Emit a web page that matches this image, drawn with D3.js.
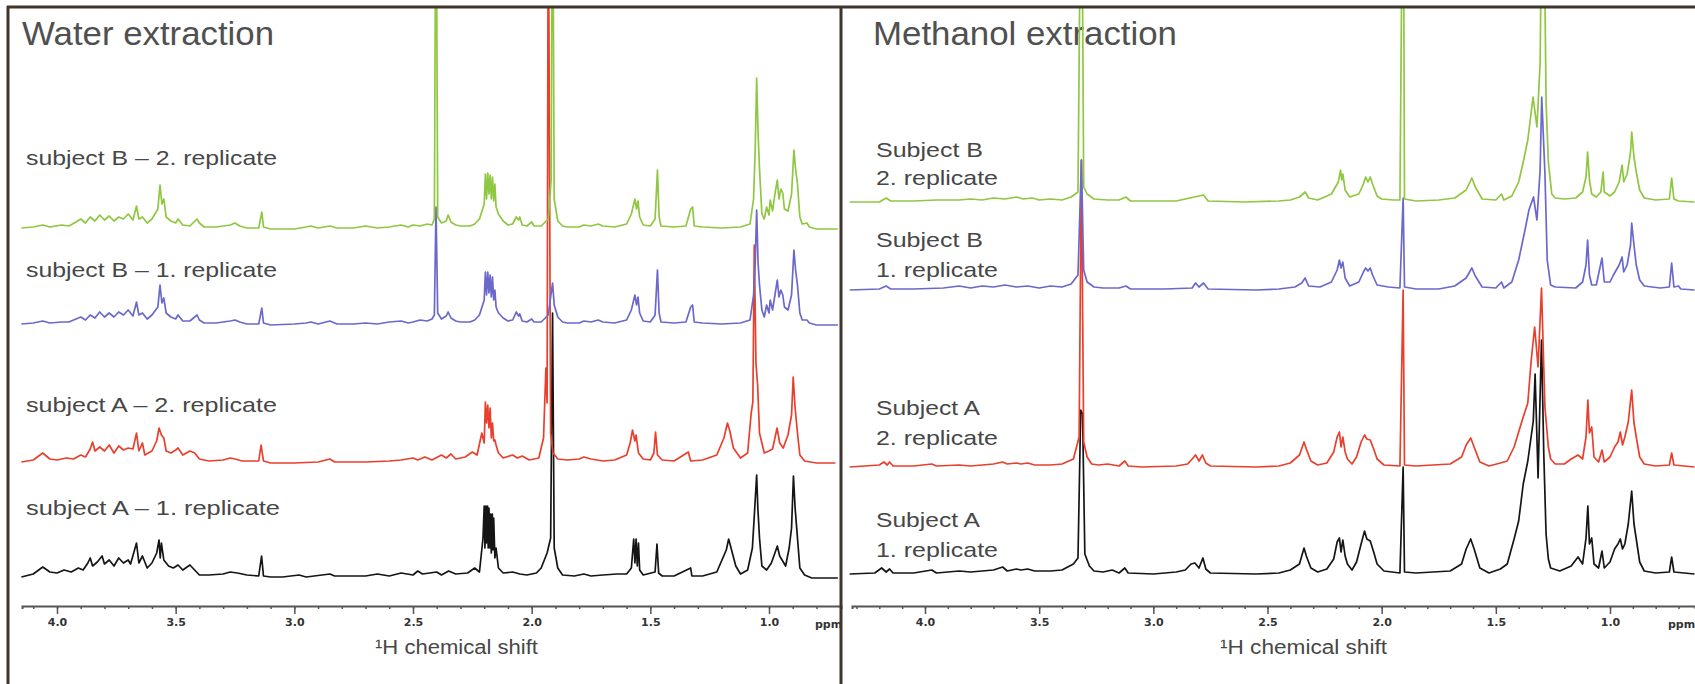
<!DOCTYPE html>
<html><head><meta charset="utf-8">
<script src="https://cdn.jsdelivr.net/npm/d3@7"></script>
<style>body{margin:0;background:#fff;overflow:hidden}</style>
</head><body>
<svg id="chart" width="1695" height="684"></svg>
<script>
// ---------------- DATA ----------------
const panelTitles = ["Water extraction", "Methanol extraction"];
const axisTitle = "\u00B9H chemical shift";
const unitLabel = "ppm";
const majorTicks = [4.0, 3.5, 3.0, 2.5, 2.0, 1.5, 1.0];
const tickLabels = ["4.0", "3.5", "3.0", "2.5", "2.0", "1.5", "1.0"];
const seriesKeys = ["subjectB_rep2", "subjectB_rep1", "subjectA_rep2", "subjectA_rep1"];
const waterLabels = ["subject B \u2013 2. replicate", "subject B \u2013 1. replicate",
                     "subject A \u2013 2. replicate", "subject A \u2013 1. replicate"];
const methanolLabels = [["Subject B", "2. replicate"], ["Subject B", "1. replicate"],
                        ["Subject A", "2. replicate"], ["Subject A", "1. replicate"]];

// spectra: [ppm, intensity (a.u.)]
const waterB2 = [[4.15,1],[4.10,2],[4.06,4],[4.03,2],[3.98,4],[3.95,3],[3.92,7],[3.90,10],[3.88,6],[3.86,12],[3.84,8],[3.82,14],[3.80,9],[3.78,13],[3.76,8],[3.74,12],[3.72,10],[3.70,15],[3.68,9],[3.665,23],[3.655,10],[3.64,12],[3.62,6],[3.60,10],[3.575,20],[3.566,44],[3.558,25],[3.55,30],[3.54,12],[3.52,8],[3.50,6],[3.49,10],[3.47,4],[3.44,3],[3.41,10],[3.40,6],[3.38,2],[3.33,2],[3.30,3],[3.27,4],[3.25,6],[3.23,3],[3.20,1],[3.15,1],[3.137,17],[3.13,2],[3.10,0],[3.00,0],[2.95,2],[2.93,3],[2.90,1],[2.85,3],[2.82,1],[2.75,1],[2.70,3],[2.65,1],[2.60,2],[2.55,4],[2.52,2],[2.50,4],[2.47,3],[2.44,5],[2.42,4],[2.41,10],[2.403,400],[2.396,12],[2.38,6],[2.36,8],[2.352,14],[2.34,7],[2.32,4],[2.30,3],[2.26,3],[2.24,5],[2.22,10],[2.20,25],[2.195,55],[2.19,30],[2.185,56],[2.18,35],[2.175,54],[2.17,30],[2.165,52],[2.16,28],[2.155,45],[2.15,22],[2.14,15],[2.12,8],[2.10,4],[2.08,5],[2.065,12],[2.055,9],[2.05,12],[2.04,4],[2.02,3],[2.00,7],[1.99,3],[1.96,3],[1.93,10],[1.918,49],[1.912,400],[1.905,30],[1.89,8],[1.87,3],[1.85,2],[1.80,2],[1.78,4],[1.75,3],[1.72,5],[1.70,3],[1.65,2],[1.60,5],[1.58,15],[1.565,30],[1.558,20],[1.552,28],[1.545,12],[1.53,4],[1.50,3],[1.48,10],[1.47,59],[1.463,12],[1.455,3],[1.40,2],[1.35,3],[1.33,20],[1.322,22],[1.315,3],[1.28,2],[1.20,1],[1.12,2],[1.08,5],[1.065,30],[1.058,80],[1.052,151],[1.046,96],[1.04,60],[1.03,15],[1.02,10],[1.01,22],[1.00,14],[0.995,29],[0.985,18],[0.975,35],[0.965,49],[0.958,30],[0.95,40],[0.942,36],[0.935,20],[0.92,18],[0.905,35],[0.895,79],[0.888,60],[0.88,45],[0.87,12],[0.86,5],[0.84,6],[0.83,2],[0.80,0],[0.71,0]];

const waterB1 = [[4.15,1],[4.10,2],[4.06,4],[4.03,2],[3.98,3],[3.95,3],[3.92,6],[3.90,8],[3.88,5],[3.86,10],[3.84,7],[3.82,13],[3.80,8],[3.78,12],[3.76,8],[3.74,13],[3.72,10],[3.70,15],[3.68,9],[3.665,23],[3.655,10],[3.64,12],[3.62,6],[3.60,10],[3.575,18],[3.566,40],[3.558,22],[3.55,27],[3.54,12],[3.52,8],[3.50,6],[3.49,10],[3.47,4],[3.44,4],[3.41,10],[3.40,5],[3.38,2],[3.33,2],[3.30,3],[3.27,4],[3.25,5],[3.23,3],[3.20,1],[3.15,1],[3.137,17],[3.13,2],[3.10,0],[3.00,1],[2.95,2],[2.93,3],[2.90,1],[2.85,4],[2.82,1],[2.75,1],[2.70,2],[2.65,1],[2.60,3],[2.55,4],[2.52,2],[2.50,3],[2.47,5],[2.44,4],[2.42,6],[2.41,10],[2.403,118],[2.396,12],[2.38,6],[2.36,9],[2.352,13],[2.34,7],[2.32,4],[2.30,3],[2.26,3],[2.24,5],[2.22,10],[2.20,25],[2.195,53],[2.19,30],[2.185,53],[2.18,32],[2.175,50],[2.17,28],[2.165,48],[2.16,25],[2.155,35],[2.15,18],[2.14,12],[2.12,7],[2.10,4],[2.08,5],[2.065,13],[2.055,9],[2.05,11],[2.04,4],[2.02,3],[2.00,6],[1.99,3],[1.96,3],[1.93,10],[1.912,42],[1.905,20],[1.89,8],[1.87,3],[1.85,2],[1.80,2],[1.78,4],[1.75,3],[1.72,5],[1.70,3],[1.65,2],[1.60,5],[1.58,15],[1.565,30],[1.558,20],[1.552,28],[1.545,12],[1.53,4],[1.50,3],[1.48,10],[1.47,55],[1.463,12],[1.455,3],[1.40,2],[1.35,3],[1.33,18],[1.322,20],[1.315,3],[1.28,2],[1.20,1],[1.12,2],[1.08,5],[1.065,30],[1.058,62],[1.052,115],[1.046,62],[1.04,40],[1.03,15],[1.02,8],[1.01,20],[1.00,12],[0.995,25],[0.985,15],[0.975,30],[0.965,45],[0.958,28],[0.95,35],[0.942,30],[0.935,18],[0.92,15],[0.905,30],[0.895,75],[0.888,55],[0.88,40],[0.87,12],[0.86,5],[0.84,5],[0.83,2],[0.80,0],[0.71,0]];

const waterA2 = [[4.15,1],[4.10,3],[4.06,10],[4.03,4],[4.00,3],[3.96,5],[3.93,4],[3.90,8],[3.88,6],[3.86,14],[3.85,21],[3.84,12],[3.82,16],[3.80,12],[3.78,18],[3.76,10],[3.74,17],[3.72,13],[3.70,15],[3.68,14],[3.665,30],[3.655,12],[3.64,20],[3.63,8],[3.60,12],[3.58,22],[3.57,35],[3.56,28],[3.55,25],[3.54,12],[3.52,10],[3.50,13],[3.49,15],[3.47,8],[3.44,12],[3.42,10],[3.40,4],[3.36,2],[3.30,3],[3.27,5],[3.25,4],[3.22,2],[3.15,2],[3.14,18],[3.13,2],[3.10,0],[3.00,0],[2.90,1],[2.85,4],[2.83,1],[2.70,1],[2.60,2],[2.55,3],[2.50,5],[2.48,3],[2.45,6],[2.42,3],[2.38,8],[2.36,5],[2.34,9],[2.32,4],[2.28,6],[2.25,11],[2.23,8],[2.21,30],[2.20,20],[2.195,61],[2.19,40],[2.185,58],[2.18,35],[2.175,55],[2.17,25],[2.165,40],[2.16,22],[2.155,23],[2.15,18],[2.14,10],[2.12,5],[2.08,8],[2.06,5],[2.04,7],[2.01,3],[1.97,5],[1.95,25],[1.94,95],[1.935,60],[1.93,600],[1.92,30],[1.91,10],[1.89,4],[1.85,3],[1.80,4],[1.78,6],[1.75,4],[1.70,2],[1.65,3],[1.60,8],[1.585,20],[1.575,33],[1.565,22],[1.56,28],[1.55,10],[1.53,4],[1.50,3],[1.485,10],[1.478,31],[1.47,8],[1.45,3],[1.40,2],[1.34,11],[1.33,2],[1.28,3],[1.22,8],[1.19,25],[1.175,40],[1.165,32],[1.15,15],[1.12,5],[1.09,10],[1.075,50],[1.068,61],[1.062,218],[1.055,100],[1.048,78],[1.04,30],[1.02,10],[1.00,12],[0.985,14],[0.975,25],[0.966,35],[0.955,20],[0.94,15],[0.92,28],[0.905,48],[0.898,86],[0.89,55],[0.88,30],[0.87,8],[0.85,2],[0.80,0],[0.72,0]];

const waterA1 = [[4.15,1],[4.10,4],[4.06,11],[4.03,6],[4.00,5],[3.97,8],[3.94,6],[3.91,10],[3.89,8],[3.87,15],[3.86,20],[3.85,12],[3.83,16],[3.81,22],[3.80,14],[3.78,18],[3.76,12],[3.74,20],[3.72,15],[3.70,18],[3.69,14],[3.665,35],[3.655,15],[3.64,22],[3.62,10],[3.60,15],[3.58,25],[3.57,38],[3.565,20],[3.56,35],[3.55,18],[3.53,12],[3.51,10],[3.49,13],[3.47,8],[3.44,13],[3.42,8],[3.40,3],[3.36,3],[3.30,4],[3.27,6],[3.24,5],[3.20,3],[3.15,2],[3.138,22],[3.13,2],[3.10,1],[3.05,1],[2.98,3],[2.95,1],[2.85,4],[2.83,2],[2.70,2],[2.65,4],[2.60,2],[2.55,5],[2.50,3],[2.48,7],[2.46,4],[2.40,6],[2.38,3],[2.35,7],[2.32,4],[2.27,5],[2.24,10],[2.22,6],[2.205,40],[2.20,72],[2.197,30],[2.193,72],[2.19,35],[2.186,72],[2.183,30],[2.18,70],[2.176,30],[2.173,64],[2.17,25],[2.166,64],[2.163,28],[2.16,60],[2.155,20],[2.15,30],[2.14,10],[2.12,5],[2.08,6],[2.05,4],[2.02,3],[1.98,5],[1.96,10],[1.935,25],[1.92,40],[1.912,265],[1.905,30],[1.89,10],[1.87,3],[1.82,2],[1.78,4],[1.75,2],[1.70,3],[1.64,4],[1.60,4],[1.58,10],[1.57,39],[1.565,15],[1.56,39],[1.555,12],[1.55,35],[1.545,8],[1.53,3],[1.48,6],[1.472,34],[1.465,5],[1.45,2],[1.40,2],[1.33,10],[1.325,2],[1.28,2],[1.22,6],[1.18,28],[1.17,39],[1.16,30],[1.14,12],[1.12,4],[1.09,8],[1.07,30],[1.06,70],[1.052,103],[1.047,70],[1.04,40],[1.03,12],[1.01,8],[0.99,15],[0.975,25],[0.965,32],[0.955,22],[0.945,18],[0.93,12],[0.915,30],[0.905,50],[0.897,102],[0.89,70],[0.88,40],[0.87,10],[0.85,3],[0.82,0],[0.71,0]];

const methB2 = [[4.33,0],[4.20,0],[4.17,4],[4.15,1],[4.05,1],[3.95,2],[3.85,2],[3.80,3],[3.75,2],[3.70,4],[3.65,3],[3.60,5],[3.57,3],[3.53,4],[3.50,2],[3.45,3],[3.40,2],[3.36,5],[3.33,10],[3.315,400],[3.305,15],[3.29,8],[3.26,3],[3.20,2],[3.15,2],[3.12,5],[3.10,1],[3.00,1],[2.90,1],[2.78,7],[2.76,1],[2.60,0],[2.45,1],[2.40,2],[2.36,5],[2.335,10],[2.32,4],[2.28,2],[2.22,8],[2.19,20],[2.18,32],[2.175,22],[2.17,28],[2.16,12],[2.14,5],[2.10,8],[2.08,18],[2.07,25],[2.06,20],[2.05,25],[2.04,18],[2.02,6],[2.00,3],[1.95,2],[1.92,2],[1.906,400],[1.90,3],[1.85,1],[1.75,2],[1.68,4],[1.63,12],[1.605,24],[1.59,15],[1.56,3],[1.50,2],[1.475,8],[1.465,2],[1.43,6],[1.40,20],[1.38,40],[1.36,62],[1.345,90],[1.337,105],[1.32,75],[1.306,139],[1.294,400],[1.28,100],[1.27,40],[1.255,8],[1.24,4],[1.20,3],[1.15,4],[1.12,10],[1.105,25],[1.098,50],[1.09,22],[1.08,8],[1.06,5],[1.04,10],[1.03,30],[1.025,10],[1.00,6],[0.98,10],[0.96,20],[0.947,37],[0.94,20],[0.925,28],[0.91,50],[0.905,70],[0.895,45],[0.885,30],[0.87,12],[0.85,4],[0.80,2],[0.74,3],[0.73,24],[0.72,3],[0.70,1],[0.63,0]];

const methB1 = [[4.33,0],[4.20,1],[4.17,4],[4.15,1],[4.05,1],[3.92,2],[3.85,4],[3.80,2],[3.75,4],[3.70,3],[3.65,5],[3.60,3],[3.55,4],[3.50,2],[3.45,4],[3.40,3],[3.36,6],[3.33,15],[3.315,130],[3.305,20],[3.29,8],[3.26,3],[3.22,2],[3.15,2],[3.12,4],[3.10,1],[2.95,1],[2.83,2],[2.815,7],[2.80,3],[2.78,7],[2.76,1],[2.55,0],[2.45,1],[2.38,3],[2.35,7],[2.335,12],[2.32,4],[2.27,3],[2.22,8],[2.195,20],[2.185,30],[2.178,22],[2.17,28],[2.16,12],[2.14,4],[2.10,8],[2.08,18],[2.07,22],[2.06,19],[2.05,22],[2.04,15],[2.02,5],[1.97,3],[1.92,2],[1.906,92],[1.90,3],[1.85,1],[1.75,1],[1.68,4],[1.63,12],[1.605,22],[1.59,14],[1.56,3],[1.50,2],[1.475,8],[1.465,2],[1.43,8],[1.40,30],[1.375,57],[1.355,80],[1.335,93],[1.32,70],[1.306,120],[1.299,193],[1.285,117],[1.275,30],[1.26,5],[1.24,3],[1.15,2],[1.12,8],[1.105,25],[1.098,50],[1.09,15],[1.08,5],[1.06,5],[1.035,32],[1.025,8],[1.00,8],[0.985,15],[0.96,25],[0.947,33],[0.94,18],[0.925,25],[0.91,45],[0.905,67],[0.895,45],[0.885,25],[0.87,10],[0.85,4],[0.78,2],[0.74,3],[0.73,27],[0.72,3],[0.70,4],[0.69,1],[0.63,0]];

const methA2 = [[4.33,0],[4.20,2],[4.18,5],[4.165,2],[4.155,5],[4.14,1],[4.05,1],[3.97,3],[3.95,1],[3.85,2],[3.80,1],[3.70,3],[3.66,5],[3.64,3],[3.60,4],[3.58,3],[3.55,4],[3.52,2],[3.45,2],[3.40,3],[3.35,8],[3.325,30],[3.315,307],[3.305,25],[3.29,10],[3.27,3],[3.24,2],[3.20,3],[3.15,1],[3.125,6],[3.11,1],[3.05,0],[2.90,1],[2.85,3],[2.83,8],[2.815,12],[2.80,6],[2.785,12],[2.77,4],[2.75,1],[2.55,0],[2.45,1],[2.40,4],[2.36,12],[2.34,25],[2.33,18],[2.31,6],[2.28,2],[2.24,4],[2.21,15],[2.195,30],[2.185,35],[2.178,20],[2.17,30],[2.16,15],[2.15,8],[2.13,3],[2.11,10],[2.09,25],[2.075,32],[2.065,28],[2.05,27],[2.035,18],[2.02,8],[1.99,2],[1.92,1],[1.906,177],[1.90,2],[1.85,1],[1.70,3],[1.65,10],[1.63,22],[1.61,29],[1.595,20],[1.57,5],[1.53,1],[1.48,4],[1.45,6],[1.42,20],[1.40,35],[1.38,50],[1.36,64],[1.345,107],[1.33,140],[1.315,100],[1.30,179],[1.285,60],[1.27,20],[1.26,8],[1.24,3],[1.20,3],[1.17,8],[1.14,12],[1.12,8],[1.105,30],[1.097,67],[1.09,34],[1.08,40],[1.07,10],[1.05,5],[1.035,17],[1.025,5],[1.00,10],[0.98,20],[0.965,25],[0.955,35],[0.945,22],[0.935,30],[0.92,45],[0.905,77],[0.895,44],[0.885,30],[0.87,10],[0.85,3],[0.80,1],[0.74,2],[0.73,14],[0.72,2],[0.63,0]];

const methA1 = [[4.33,0],[4.22,1],[4.19,6],[4.17,2],[4.155,5],[4.14,1],[4.05,1],[3.97,4],[3.95,1],[3.90,2],[3.85,3],[3.80,2],[3.75,3],[3.70,4],[3.66,7],[3.64,3],[3.60,5],[3.58,4],[3.55,5],[3.52,3],[3.45,3],[3.40,4],[3.35,10],[3.33,16],[3.318,164],[3.31,160],[3.30,20],[3.28,8],[3.26,3],[3.22,2],[3.18,4],[3.15,1],[3.125,6],[3.11,1],[3.00,0],[2.90,2],[2.86,4],[2.835,10],[2.818,11],[2.80,6],[2.783,16],[2.77,5],[2.75,1],[2.55,0],[2.45,1],[2.40,4],[2.36,10],[2.34,26],[2.33,18],[2.31,6],[2.28,2],[2.24,5],[2.21,15],[2.195,32],[2.185,36],[2.178,22],[2.17,34],[2.16,18],[2.15,10],[2.13,4],[2.11,12],[2.09,30],[2.075,43],[2.065,35],[2.05,33],[2.035,22],[2.02,10],[1.99,3],[1.92,1],[1.906,107],[1.90,2],[1.85,1],[1.70,3],[1.65,10],[1.63,25],[1.61,35],[1.595,25],[1.57,6],[1.53,1],[1.48,5],[1.45,10],[1.42,35],[1.40,53],[1.38,90],[1.36,113],[1.336,153],[1.328,200],[1.315,96],[1.30,234],[1.29,120],[1.28,40],[1.27,15],[1.26,6],[1.22,3],[1.17,8],[1.14,17],[1.12,10],[1.105,36],[1.097,68],[1.09,30],[1.08,36],[1.07,10],[1.05,6],[1.035,23],[1.025,6],[1.00,12],[0.98,25],[0.965,30],[0.955,35],[0.945,25],[0.935,30],[0.92,50],[0.905,83],[0.895,50],[0.885,35],[0.87,12],[0.85,3],[0.80,1],[0.74,2],[0.73,17],[0.72,2],[0.63,0]];

// ---------------- LAYOUT / STYLE ----------------
const colors = ["#8fc741", "#6b68cc", "#e8402d", "#151515"];
const svg = d3.select("#chart");
svg.append("rect").attr("width",1695).attr("height",684).attr("fill","#fff");

const panels = [
  { left: 10, right: 840, ppmRef:[4.0,1.0], pxRef:[57,769], axisFrom: 22, axisTo: 841,
    baselines:[229,325,463,578], series:[waterB2,waterB1,waterA2,waterA1],
    title: panelTitles[0], titleX: 22, titleW: 252,
    labelType: "single", labels: waterLabels, labelX: 26, labelY:[165,277,412,515], labelW:[251,251,251,254],
    unitX: 815, axisTitleX: 375, axisTitleW: 163 },
  { left: 843, right: 1695, ppmRef:[4.0,1.0], pxRef:[925,1610], axisFrom: 852, axisTo: 1695,
    baselines:[202,290,467,574], series:[methB2,methB1,methA2,methA1],
    title: panelTitles[1], titleX: 873, titleW: 304,
    labelType: "double", labels: methanolLabels, labelX: 876, labelY:[[157,185],[247,277],[415,445],[527,557]],
    labelW:[[107,122],[107,122],[104,122],[104,122]],
    unitX: 1668, axisTitleX: 1220, axisTitleW: 167 }
];

const axisY = 606;
const textColor = "#474747";

panels.forEach((p, pi) => {
  const x = d3.scaleLinear().domain(p.ppmRef).range(p.pxRef);
  const g = svg.append("g");
  const clipId = "clip" + pi;
  svg.append("clipPath").attr("id", clipId).append("rect")
     .attr("x", p.left).attr("y", 8).attr("width", p.right - p.left).attr("height", 592);
  const clipId2 = "clipx" + pi;
  svg.append("clipPath").attr("id", clipId2).append("rect")
     .attr("x", p.left).attr("y", 0).attr("width", p.right - p.left).attr("height", 684);

  // title
  g.append("text").attr("x", p.titleX).attr("y", 45).text(p.title)
   .attr("font-family","Liberation Sans, Arial, sans-serif").attr("font-size", 33)
   .attr("fill", "#505050").attr("textLength", p.titleW).attr("lengthAdjust","spacingAndGlyphs");

  // spectra, bottom first
  const sg = g.append("g").attr("clip-path", `url(#${clipId})`);
  [3,2,1,0].forEach(i => {
    const y = d3.scaleLinear().domain([0,100]).range([p.baselines[i], p.baselines[i]-100]);
    const line = d3.line().x(d => x(d[0])).y(d => y(d[1]));
    sg.append("path").datum(p.series[i]).attr("d", line)
      .attr("fill","none").attr("stroke", colors[i]).attr("stroke-width", 1.7)
      .attr("stroke-linejoin","round");
  });

  // labels
  const lg = g.append("g").attr("font-family","Liberation Sans, Arial, sans-serif")
     .attr("font-size", 21).attr("fill", textColor);
  p.labels.forEach((lab, i) => {
    if (p.labelType === "single") {
      lg.append("text").attr("x", p.labelX).attr("y", p.labelY[i]).text(lab)
        .attr("textLength", p.labelW[i]).attr("lengthAdjust","spacingAndGlyphs");
    } else {
      lab.forEach((ln, j) => {
        lg.append("text").attr("x", p.labelX).attr("y", p.labelY[i][j]).text(ln)
          .attr("textLength", p.labelW[i][j]).attr("lengthAdjust","spacingAndGlyphs");
      });
    }
  });

  // axes
  const xa = x.copy().domain([x.invert(p.axisFrom), x.invert(p.axisTo)]).range([p.axisFrom, p.axisTo]);
  const dom = xa.domain();
  const minor = d3.range(Math.floor(dom[0]*10), Math.ceil(dom[1]*10)-1, -1).map(v => v/10)
                  .filter(v => v <= dom[0] && v >= dom[1]);
  const ag = g.append("g").attr("transform", `translate(0,${axisY})`);
  ag.call(d3.axisBottom(xa).tickValues(minor).tickSize(3).tickFormat(""))
    .call(s => s.select(".domain").attr("stroke","#555").attr("stroke-width",2))
    .call(s => s.selectAll(".tick line").attr("stroke","#555").attr("stroke-width",1.5));
  const mg = g.append("g").attr("transform", `translate(0,${axisY})`);
  mg.call(d3.axisBottom(xa).tickValues(majorTicks).tickSize(8).tickPadding(4)
          .tickFormat((d,i) => tickLabels[i]))
    .call(s => s.select(".domain").remove())
    .call(s => s.selectAll(".tick line").attr("stroke","#555").attr("stroke-width",1.5))
    .call(s => s.selectAll(".tick text").attr("font-family","DejaVu Sans, sans-serif")
                 .attr("font-weight","bold").attr("font-size",11).attr("fill","#333"));
  g.append("text").attr("x", p.unitX).attr("y", 628).text(unitLabel)
   .attr("font-family","DejaVu Sans, sans-serif").attr("font-weight","bold").attr("font-size",11).attr("fill","#333")
   .attr("clip-path", `url(#${clipId2})`);
  g.append("text").attr("x", p.axisTitleX).attr("y", 654).text(axisTitle)
   .attr("font-family","Liberation Sans, Arial, sans-serif").attr("font-size", 20).attr("fill", textColor)
   .attr("textLength", p.axisTitleW).attr("lengthAdjust","spacingAndGlyphs");
});

// frame
const frame = svg.append("g").attr("stroke","#3f352c").attr("fill","none");
frame.append("line").attr("x1",7).attr("x2",1695).attr("y1",7).attr("y2",7).attr("stroke-width",3);
frame.append("line").attr("x1",8).attr("x2",8).attr("y1",6).attr("y2",684).attr("stroke-width",3);
frame.append("line").attr("x1",841).attr("x2",841).attr("y1",6).attr("y2",684).attr("stroke-width",3);
</script>
</body></html>
